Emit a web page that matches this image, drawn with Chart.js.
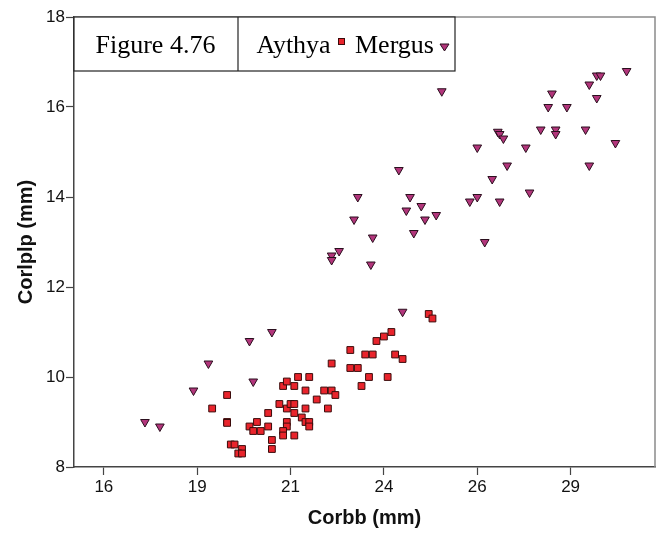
<!DOCTYPE html>
<html lang="en">
<head>
<meta charset="UTF-8">
<title>Figure 4.76</title>
<script src="https://cdn.jsdelivr.net/npm/chart.js"></script>
<style>
    body { margin: 0; background: #fff; }
</style>
</head>
<body>
<canvas id="myChart" width="661" height="539"></canvas>
<script>
    // Aythya (red squares)
    var aythyaX = [19.3, 18.9, 19.3, 19.3, 20.1, 20.4, 19.9, 20.0, 20.2, 20.4,
                   20.7, 20.8, 20.9, 20.9, 20.9, 20.9, 20.8, 20.8, 20.5, 20.5,
                   19.4, 19.5, 19.7, 19.6, 19.7, 24.7, 24.8, 23.7, 23.5, 23.3,
                   22.6, 23.0, 23.2, 23.8, 24.0, 22.1, 22.6, 22.8, 21.2, 21.5,
                   23.1, 23.6, 22.9, 21.1, 21.4, 21.9, 22.1, 22.2, 21.7, 21.0,
                   21.1, 21.4, 22.0, 21.1, 21.3, 21.4, 21.5, 21.5, 21.1];
    var aythyaY = [9.6, 9.3, 9.0, 8.98, 9.0, 9.2, 8.9, 8.8, 8.8, 8.9,
                   9.4, 9.8, 9.9, 9.3, 9.0, 8.9, 8.8, 8.7, 8.6, 8.4,
                   8.5, 8.5, 8.4, 8.3, 8.3, 11.4, 11.3, 11.0, 10.9, 10.8,
                   10.6, 10.5, 10.5, 10.5, 10.4, 10.3, 10.2, 10.2, 10.0, 10.0,
                   10.0, 10.0, 9.8, 9.8, 9.7, 9.7, 9.7, 9.6, 9.5, 9.4,
                   9.4, 9.3, 9.3, 9.2, 9.1, 9.0, 9.0, 8.9, 8.7];

    // Mergus (purple triangles)
    var mergusX = [17.1, 17.5, 18.4, 18.8, 19.9, 20.5, 20.0, 24.0, 22.1, 22.1,
                   22.3, 23.15, 23.2, 22.7, 22.8, 24.3, 24.6, 24.9, 24.1, 24.5,
                   24.2, 23.9, 25.05, 26.2, 25.8, 26.0, 26.6, 27.4, 26.4, 26.8,
                   29.0, 26.0, 27.3, 26.55, 26.6, 26.7, 27.7, 28.1, 28.1, 28.9,
                   29.7, 27.9, 28.4, 28.0, 29.2, 29.0, 29.2, 29.3, 30.0];
    var mergusY = [9.0, 8.9, 9.7, 10.3, 10.8, 11.0, 9.9, 11.45, 12.7, 12.6,
                   12.8, 12.5, 13.1, 13.5, 14.0, 13.2, 13.5, 13.6, 13.7, 13.8,
                   14.0, 14.6, 16.35, 13.0, 13.9, 14.0, 13.9, 14.1, 14.4, 14.7,
                   14.7, 15.1, 15.1, 15.45, 15.4, 15.3, 15.5, 15.5, 15.4, 15.5,
                   15.2, 16.0, 16.0, 16.3, 16.2, 16.5, 16.7, 16.7, 16.8];

    var xTicks = [16, 18.5, 21, 23.5, 26, 28.5];
    var yTicks = [8, 10, 12, 14, 16, 18];

    function pontos(xs, ys) {
        var lista = [];
        for (var i = 0; i < xs.length; i++) {
            lista.push({ x: xs[i], y: ys[i] });
        }
        return lista;
    }

    var corQuadrado = '#e9242c';
    var corTriangulo = '#b2357b';

    // borda cinza em cima e a direita
    const moldura = {
        id: 'moldura',
        beforeDatasetsDraw(chart) {
            const a = chart.chartArea;
            const c = chart.ctx;
            c.save();
            c.strokeStyle = '#8a8a8a';
            c.lineWidth = 1.5;
            c.beginPath();
            c.moveTo(a.left, a.top);
            c.lineTo(a.right, a.top);
            c.lineTo(a.right, a.bottom);
            c.stroke();
            c.restore();
        }
    };

    // caixa com titulo e legenda
    const caixa = {
        id: 'caixa',
        afterDatasetsDraw(chart) {
            const a = chart.chartArea;
            const c = chart.ctx;
            const x0 = a.left, y0 = a.top, x1 = 455, y1 = 71, xm = 238;
            c.save();
            c.fillStyle = '#fff';
            c.fillRect(x0, y0, x1 - x0, y1 - y0);
            c.strokeStyle = '#222';
            c.lineWidth = 1.2;
            c.strokeRect(x0, y0, x1 - x0, y1 - y0);
            c.beginPath();
            c.moveTo(xm, y0);
            c.lineTo(xm, y1);
            c.stroke();

            c.fillStyle = '#000';
            c.font = '26px "Liberation Serif", "Times New Roman", serif';
            c.textBaseline = 'alphabetic';
            c.fillText('Figure 4.76', 95.5, 53);
            c.fillText('Aythya', 256.5, 53);
            c.fillText('Mergus', 355, 53);

            // quadrado
            c.fillStyle = corQuadrado;
            c.strokeStyle = '#3a0b0b';
            c.lineWidth = 1;
            c.fillRect(338.5, 38.5, 6, 6);
            c.strokeRect(338.5, 38.5, 6, 6);

            // triangulo
            c.fillStyle = corTriangulo;
            c.strokeStyle = '#2b0f1e';
            c.beginPath();
            c.moveTo(440, 44);
            c.lineTo(449, 44);
            c.lineTo(444.5, 51);
            c.closePath();
            c.fill();
            c.stroke();
            c.restore();
        }
    };

    const ctx = document.getElementById('myChart');

    new Chart(ctx, {
        type: 'scatter',
        data: {
            datasets: [{
                label: 'Aythya',
                data: pontos(aythyaX, aythyaY),
                pointStyle: 'rect',
                pointRadius: 4.8,
                backgroundColor: corQuadrado,
                borderColor: '#3a0b0b',
                borderWidth: 1
            },
            {
                label: 'Mergus',
                data: pontos(mergusX, mergusY),
                pointStyle: 'triangle',
                rotation: 180,
                pointRadius: 5,
                backgroundColor: corTriangulo,
                borderColor: '#2b0f1e',
                borderWidth: 1
            }]
        },
        options: {
            responsive: false,
            animation: false,
            layout: { padding: { top: 17, right: 6, left: 0, bottom: 0 } },
            plugins: {
                legend: { display: false },
                tooltip: { enabled: false }
            },
            scales: {
                x: {
                    type: 'linear',
                    min: 15.2,
                    max: 30.76,
                    afterBuildTicks: function (s) {
                        s.ticks = xTicks.map(function (v) { return { value: v }; });
                    },
                    afterFit: function (s) { s.height = 72; },
                    ticks: {
                        callback: function (v) { return Math.round(v); },
                        font: { family: '"Liberation Sans", Arial, sans-serif', size: 17 },
                        color: '#111',
                        padding: 2,
                        maxRotation: 0
                    },
                    grid: { drawOnChartArea: false, tickLength: 8, color: '#444', tickWidth: 1.2 },
                    border: { color: '#444', width: 1.5 },
                    title: {
                        display: true,
                        text: 'Corbb (mm)',
                        font: { family: '"Liberation Sans", Arial, sans-serif', size: 20, weight: 'bold' },
                        color: '#111',
                        padding: { top: 0, bottom: 9 }
                    }
                },
                y: {
                    min: 8,
                    max: 18,
                    afterBuildTicks: function (s) {
                        s.ticks = yTicks.map(function (v) { return { value: v }; });
                    },
                    afterFit: function (s) { s.width = 74; },
                    ticks: {
                        font: { family: '"Liberation Sans", Arial, sans-serif', size: 17 },
                        color: '#111',
                        padding: 1
                    },
                    grid: { drawOnChartArea: false, tickLength: 8, color: '#444', tickWidth: 1.2 },
                    border: { color: '#444', width: 1.5 },
                    title: {
                        display: true,
                        text: 'Corlplp (mm)',
                        font: { family: '"Liberation Sans", Arial, sans-serif', size: 20, weight: 'bold' },
                        color: '#111',
                        padding: { top: 14, bottom: 0 }
                    }
                }
            }
        },
        plugins: [moldura, caixa]
    });
</script>
</body>
</html>
